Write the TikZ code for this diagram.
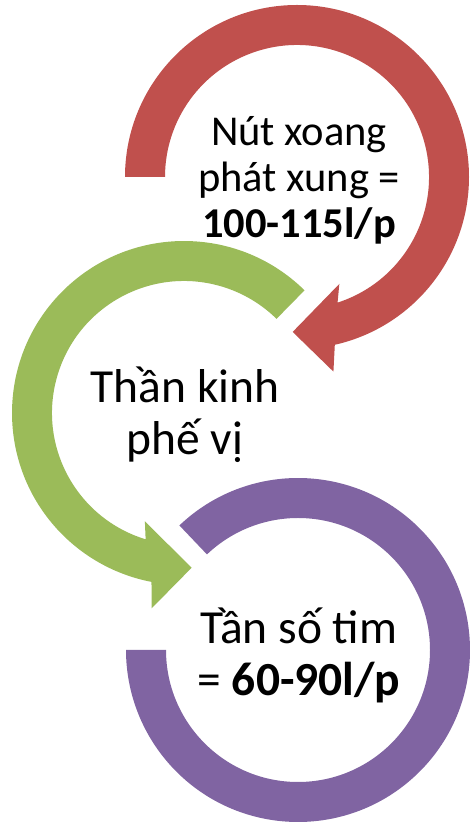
\documentclass[tikz,border=0pt]{standalone}
\usepackage{fontspec}
\setmainfont{Carlito}
\usepackage{tikz}
\usetikzlibrary{calc}
\definecolor{ringred}{HTML}{C0504D}
\definecolor{ringgreen}{HTML}{9BBB59}
\definecolor{ringpurple}{HTML}{8064A2}

\begin{document}
\begin{tikzpicture}[
  x=1pt,y=1pt,
  lbl/.style={align=center,inner sep=0pt,font=\fontsize{42.5}{46}\selectfont},
  lblwide/.style={lbl,font=\fontsize{47.5}{52}\selectfont}
]
\useasboundingbox (0,0) rectangle (469,825);
\coordinate (redc) at (297,648);
\coordinate (greenc) at (184,412);
\coordinate (purplec) at (298,175);

% red ring, clockwise from the left, head at the bottom
\begin{scope}[shift={(redc)}]
  \fill[ringred] (180:172) arc[start angle=180,end angle=-77.3,radius=172]
    -- (-79.4:198) -- (-91.6:155) -- (-68.4:115) -- (-72.1:132)
    arc[start angle=-72.1,end angle=180,radius=132] -- cycle;
\end{scope}
% green ring, counterclockwise
\begin{scope}[shift={(greenc)}]
  \fill[ringgreen] (45.5:172) arc[start angle=45.5,end angle=259.1,radius=172]
    -- (260.6:198) -- (272.8:155) -- (250.1:115) -- (253.1:132)
    arc[start angle=253.1,end angle=45.5,radius=132] -- cycle;
\end{scope}
% purple ring, no head
\begin{scope}[shift={(purplec)}]
  \fill[ringpurple] (133.6:172) arc[start angle=133.6,end angle=-180,radius=172]
    -- (180:132) arc[start angle=-180,end angle=133.6,radius=132] -- cycle;
\end{scope}

\node[lbl] (nut) at ($(redc)+(2,-3)$) {Nút xoang\\phát xung =\\\textbf{100-115l/p}};
\node[lblwide] (than) at ($(greenc)+(1,-2)$) {Thần kinh\\phế vị};
\node[lblwide] (tan) at ($(purplec)+(1,-5)$) {Tần số tim\\= \textbf{60-90l/p}};
\end{tikzpicture}
\end{document}
